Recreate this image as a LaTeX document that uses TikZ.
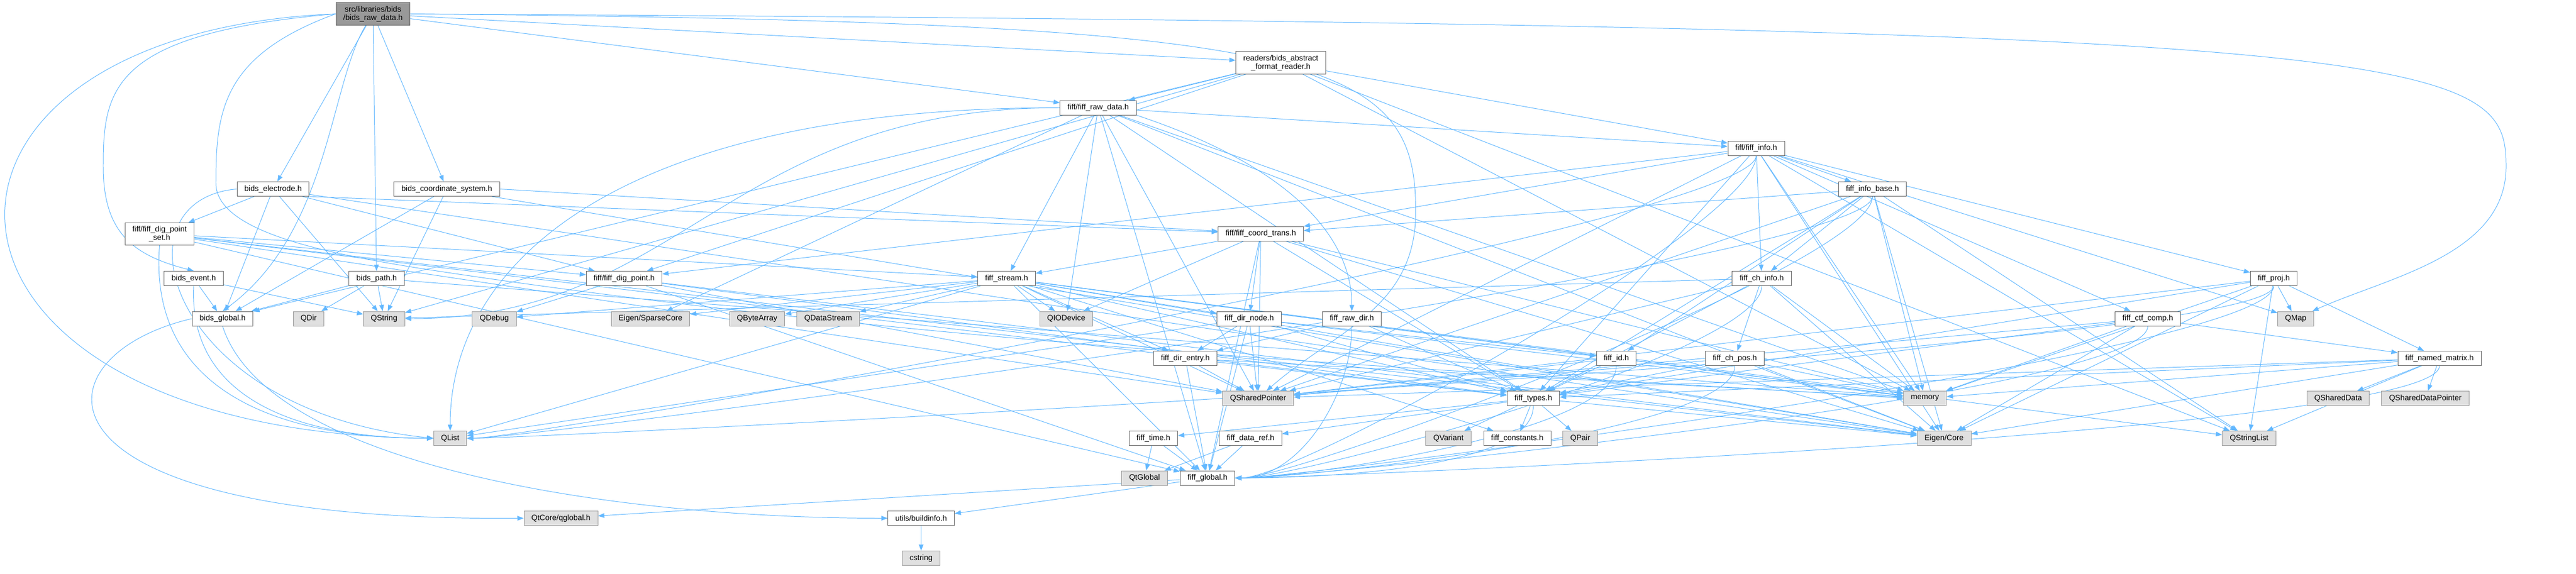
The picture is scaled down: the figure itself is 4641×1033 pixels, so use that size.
\documentclass[tikz,border=0pt]{standalone}
\usepackage{fontspec}
\setmainfont{Liberation Sans}[Ligatures=CommonOff]
\usepackage{tikz}
\usetikzlibrary{arrows.meta, backgrounds}
\definecolor{edgeblue}{HTML}{63B8FF}
\definecolor{boxline}{HTML}{666666}
\definecolor{sysline}{HTML}{999999}
\definecolor{sysfill}{HTML}{E0E0E0}
\definecolor{rootfill}{HTML}{999999}
\tikzset{
	hfile/.style={
			rectangle, draw=boxline, fill=white, line width=0.7pt,
			minimum height=18.5pt, inner xsep=9.5pt, inner ysep=4.3pt,
			align=center, text centered, font=\fontsize{10}{10.7}\selectfont},
	sysfile/.style={hfile, draw=sysline, fill=sysfill},
	rootfile/.style={hfile, fill=rootfill},
	dep/.style={draw=edgeblue, line width=0.7pt},
		}

\begin{document}
\begin{tikzpicture} [->, >={Triangle[length=8pt, width=6pt]}, x=0.025cm, y=-0.025cm]
	\useasboundingbox (0,0) rectangle (4641,1033);

	% files of the bids library
	\node[rootfile] (root) at (672,25) {src/libraries/bids\\/bids\_raw\_data.h};
	\node[hfile] (reader) at (2307.5,113) {readers/bids\_abstract\\\_format\_reader.h};
	\node[hfile] (belec) at (492,340.5) {bids\_electrode.h};
	\node[hfile] (bcoord) at (805,340.5) {bids\_coordinate\_system.h};
	\node[hfile] (bevent) at (349,501.5) {bids\_event.h};
	\node[hfile] (bpath) at (678.5,501.5) {bids\_path.h};
	\node[hfile] (bglobal) at (401,574) {bids\_global.h};
	\node[hfile] (buildinfo) at (1659.5,933.5) {utils/buildinfo.h};

	% files of the fiff library
	\node[hfile] (rawdata) at (1978.5,194) {fiff/fiff\_raw\_data.h};
	\node[hfile] (finfo) at (3164,267) {fiff/fiff\_info.h};
	\node[hfile] (infobase) at (3373.5,340.5) {fiff\_info\_base.h};
	\node[hfile] (digset) at (287.5,421.5) {fiff/fiff\_dig\_point\\\_set.h};
	\node[hfile] (coordtrans) at (2271.5,421) {fiff/fiff\_coord\_trans.h};
	\node[hfile] (digpt) at (1124.5,501.5) {fiff/fiff\_dig\_point.h};
	\node[hfile] (fstream) at (1813.5,501.5) {fiff\_stream.h};
	\node[hfile] (chinfo) at (3174,501.5) {fiff\_ch\_info.h};
	\node[hfile] (fproj) at (4096.5,501.5) {fiff\_proj.h};
	\node[hfile] (dirnode) at (2250.5,574) {fiff\_dir\_node.h};
	\node[hfile] (rawdir) at (2435.5,574) {fiff\_raw\_dir.h};
	\node[hfile] (ctfcomp) at (3869.5,574) {fiff\_ctf\_comp.h};
	\node[hfile] (direntry) at (2135.5,645.5) {fiff\_dir\_entry.h};
	\node[hfile] (fid) at (2912,645.5) {fiff\_id.h};
	\node[hfile] (chpos) at (3125.5,645.5) {fiff\_ch\_pos.h};
	\node[hfile] (namedmat) at (4395,645.5) {fiff\_named\_matrix.h};
	\node[hfile] (ftypes) at (2762.5,717.5) {fiff\_types.h};
	\node[hfile] (ftime) at (2078,789.5) {fiff\_time.h};
	\node[hfile] (dataref) at (2253,789.5) {fiff\_data\_ref.h};
	\node[hfile] (fconst) at (2733.5,789.5) {fiff\_constants.h};
	\node[hfile] (fglobal) at (2175.5,861) {fiff\_global.h};

	% system and external headers
	\node[sysfile] (qdir) at (556,574) {QDir};
	\node[sysfile] (qstring) at (692,574) {QString};
	\node[sysfile] (qdebug) at (890.5,574) {QDebug};
	\node[sysfile] (sparse) at (1172,574) {Eigen/SparseCore};
	\node[sysfile] (qbytearray) at (1364,574) {QByteArray};
	\node[sysfile] (qdatastream) at (1492,574) {QDataStream};
	\node[sysfile] (qiodevice) at (1921,574) {QIODevice};
	\node[sysfile] (qmap) at (4136,574) {QMap};
	\node[sysfile] (qsharedptr) at (2266.5,717.5) {QSharedPointer};
	\node[sysfile] (qmemory) at (3468,717.5) {memory};
	\node[sysfile] (qshareddata) at (4212.5,717.5) {QSharedData};
	\node[sysfile] (qsdp) at (4369.5,717.5) {QSharedDataPointer};
	\node[sysfile] (qlist) at (811,789.5) {QList};
	\node[sysfile] (qvariant) at (2609.5,789.5) {QVariant};
	\node[sysfile] (qpair) at (2847,789.5) {QPair};
	\node[sysfile] (eigencore) at (3502.5,789.5) {Eigen/Core};
	\node[sysfile] (qstringlist) at (4052,789.5) {QStringList};
	\node[sysfile] (qtglobal) at (2062,861) {QtGlobal};
	\node[sysfile] (qtglobalh) at (1010.5,933.5) {QtCore/qglobal.h};
	\node[sysfile] (cstring) at (1659.5,1005.5) {cstring};

	\begin{scope}[on background layer]
	% bids includes
	\foreach \tgt in {belec,bcoord,bpath,reader,rawdata}
		\draw[dep] (root) -- (\tgt);
	\draw[dep] (root.west) .. controls (-230,60) and (-200,780) .. (qlist.west);
	\draw[dep] (root.west) .. controls (200,60) and (186,160) .. (186,300) .. controls (186,420) and (240,460) .. (bevent.north);
	\draw[dep] (root) .. controls (594,150) and (594,420) .. (bglobal.north);
	\draw[dep] (root.west) .. controls (400,100) and (389,200) .. (389,330) .. controls (389,420) and (600,460) .. (800,490) .. controls (1800,640) and (2900,680) .. (qmemory.west);
	\draw[dep] (root.east) .. controls (2400,40) and (2560,100) .. (2550,400) .. controls (2540,560) and (2400,600) .. (qsharedptr);
	\draw[dep] (root.east) .. controls (4400,45) and (4515,100) .. (4515,300) .. controls (4515,460) and (4300,500) .. (qmap);
	\foreach \tgt in {bglobal,digset,digpt,qstring,eigencore}
		\draw[dep] (belec) -- (\tgt);
	\draw[dep] (belec.south east) -- (coordtrans);
	\draw[dep] (belec.west) .. controls (200,360) and (300,740) .. (qlist.west);
	\foreach \tgt in {bglobal,qstring,eigencore}
		\draw[dep] (bcoord) -- (\tgt);
	\draw[dep] (bcoord.east) -- (coordtrans);
	\foreach \tgt in {bglobal,qstring}
		\draw[dep] (bevent) -- (\tgt);
	\draw[dep] (bevent.south) .. controls +(-10,200) and +(-250,0) .. (qlist.west);
	\foreach \tgt in {bglobal,qdir,qstring,qmemory}
		\draw[dep] (bpath) -- (\tgt);
	\draw[dep] (bglobal.west) .. controls (60,640) and (20,940) .. (qtglobalh.west);
	\draw[dep] (bglobal.south) .. controls +(80,250) and +(-500,0) .. (buildinfo.west);
	\foreach \tgt in {bglobal,rawdata,finfo,digpt,qstring,qstringlist,qmemory}
		\draw[dep] (reader) -- (\tgt);
	\draw[dep] (buildinfo) -- (cstring);

	% fiff includes
	\foreach \tgt in {digpt,fstream,qsharedptr,fglobal,ftypes,eigencore}
		\draw[dep] (digset) -- (\tgt);
	\draw[dep] (digset.south) .. controls +(-20,250) and +(-300,0) .. (qlist.west);
	\foreach \tgt in {qdebug,qsharedptr,fglobal,ftypes,eigencore}
		\draw[dep] (digpt) -- (\tgt);
	\foreach \tgt in {finfo,fstream,sparse,qiodevice,qsharedptr,fglobal,ftypes,eigencore,qmemory}
		\draw[dep] (rawdata) -- (\tgt);
	\draw[dep] (rawdata.south east) .. controls +(300,100) and +(0,-120) .. (rawdir.north);
	\draw[dep] (rawdata.west) .. controls +(-800,0) and +(0,-300) .. (qlist.north);
	\draw[dep] (rawdata.west) .. controls +(-600,0) and +(500,0) .. (qstring.east);
	\foreach \tgt in {fstream,qiodevice,dirnode,qsharedptr,fglobal,ftypes,eigencore,qmemory}
		\draw[dep] (coordtrans) -- (\tgt);
	\foreach \tgt in {qiodevice,qbytearray,qdatastream,qdebug,sparse,qlist,dirnode,direntry,fid,qsharedptr,fglobal,ftypes,fconst,eigencore,qmemory,qstringlist}
		\draw[dep] (fstream) -- (\tgt);
	\foreach \tgt in {direntry,fid,qlist,qsharedptr,fglobal,ftypes,qmemory}
		\draw[dep] (dirnode) -- (\tgt);
	\foreach \tgt in {qsharedptr,fglobal,ftypes,qmemory}
		\draw[dep] (direntry) -- (\tgt);
	\foreach \tgt in {direntry,ftypes}
		\draw[dep] (rawdir) -- (\tgt);
	\foreach \tgt in {ftypes,qsharedptr,qmemory}
		\draw[dep] (fid) -- (\tgt);
	\foreach \tgt in {ftypes,qsharedptr,eigencore,qmemory}
		\draw[dep] (chpos) -- (\tgt);
	\foreach \tgt in {chpos,ftypes,qsharedptr,eigencore,qmemory,qstring}
		\draw[dep] (chinfo) -- (\tgt);
	\foreach \tgt in {qvariant,fconst,qpair,ftime,dataref,eigencore}
		\draw[dep] (ftypes) -- (\tgt);
	\foreach \tgt in {qtglobal,fglobal}
		\draw[dep] (ftime) -- (\tgt);
	\foreach \tgt in {qtglobal,fglobal}
		\draw[dep] (dataref) -- (\tgt);
	\foreach \tgt in {chinfo,coordtrans,fid,qsharedptr,ftypes,eigencore,qmemory,qstringlist}
		\draw[dep] (infobase) -- (\tgt);
	\foreach \tgt in {infobase,chinfo,coordtrans,ctfcomp,fproj,digpt,qsharedptr,ftypes,eigencore,qmemory,qstringlist,qmap}
		\draw[dep] (finfo) -- (\tgt);
	\foreach \tgt in {namedmat,qsharedptr,ftypes,eigencore,qmemory}
		\draw[dep] (ctfcomp) -- (\tgt);
	\foreach \tgt in {namedmat,qmap,qstringlist,qsharedptr,ftypes,eigencore,qmemory}
		\draw[dep] (fproj) -- (\tgt);
	\foreach \tgt in {qshareddata,qsdp,qstringlist,qsharedptr,ftypes,eigencore,qmemory}
		\draw[dep] (namedmat) -- (\tgt);
	% long edges coming in from the right
	\foreach \src in {rawdir,fid,chpos,chinfo,ftypes,infobase,finfo,ctfcomp,fproj,namedmat}
		\draw[dep] (\src.south) .. controls +(0,120) and +(120,0) .. (fglobal.east);
	\foreach \src in {infobase,finfo,fproj}
		\draw[dep] (\src.south) .. controls +(0,120) and +(120,0) .. (qlist.east);
	\foreach \tgt in {qtglobalh,buildinfo}
		\draw[dep] (fglobal) -- (\tgt);
	\end{scope}
\end{tikzpicture}
\end{document}
